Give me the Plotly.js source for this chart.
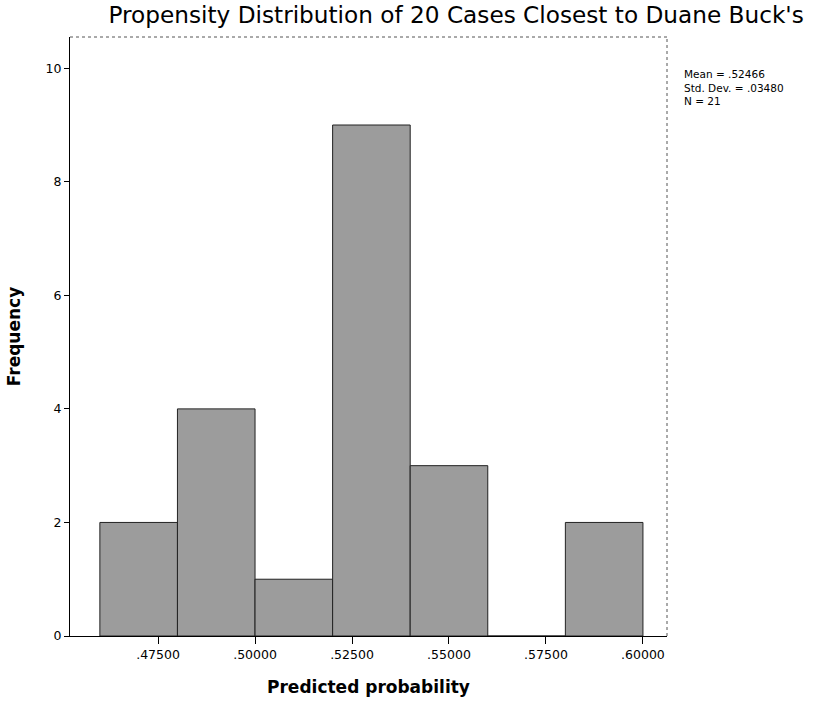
<!DOCTYPE html>
<html><head><meta charset="utf-8">
<script src="https://cdn.plot.ly/plotly-3.0.1.min.js"></script>
<style>body{margin:0;background:#fff}</style>
</head><body><div id="chart" style="width:816px;height:703px"></div>
<script>
const binStarts = [0.46, 0.48, 0.50, 0.52, 0.54, 0.56, 0.58];
const binWidth = 0.02;
const counts = [2, 4, 1, 9, 3, 0, 2];
const xTickVals = [0.475, 0.500, 0.525, 0.550, 0.575, 0.600];
const xTickText = ['.47500', '.50000', '.52500', '.55000', '.57500', '.60000'];
const yTickVals = [0, 2, 4, 6, 8, 10];
const statsText = ['Mean = .52466', 'Std. Dev. = .03480', 'N = 21'];
const titleText = "Propensity Distribution of 20 Cases Closest to Duane Buck's";

const centers = binStarts.map(s => s + binWidth / 2);
const trace = {
  type: 'bar', x: centers, y: counts, width: binWidth,
  marker: {color: '#9c9c9c', line: {color: '#222', width: 1}},
  hoverinfo: 'skip'
};
const font = 'DejaVu Sans, Verdana, sans-serif';
const layout = {
  width: 816, height: 703,
  margin: {l: 70, r: 149, t: 37, b: 67},
  paper_bgcolor: '#fff', plot_bgcolor: '#fff',
  showlegend: false,
  title: {text: titleText, font: {family: font, size: 23.2, color: '#000'}, x: 0.559, xanchor: 'center', y: 0.979, yanchor: 'middle'},
  xaxis: {
    range: [0.4523, 0.6062], tickvals: xTickVals, ticktext: xTickText,
    ticks: 'outside', ticklen: 7, tickcolor: '#000', showgrid: false, zeroline: false,
    showline: true, linecolor: '#000', linewidth: 1,
    tickfont: {family: font, size: 12.5, color: '#000'},
    title: {text: 'Predicted probability', font: {family: font, size: 17, color: '#000', weight: 'bold'}, standoff: 20}
  },
  yaxis: {
    range: [0, 10.55], tickvals: yTickVals, ticks: 'outside', ticklen: 5, tickcolor: '#000',
    showgrid: false, zeroline: false, showline: true, linecolor: '#000', linewidth: 1,
    tickfont: {family: font, size: 12.5, color: '#000'},
    title: {text: 'Frequency', font: {family: font, size: 17, color: '#000', weight: 'bold'}, standoff: 20}
  },
  shapes: [
    {type: 'line', xref: 'paper', yref: 'paper', x0: 0, x1: 1, y0: 1, y1: 1, line: {color: '#555', width: 1, dash: 'dot'}},
    {type: 'line', xref: 'paper', yref: 'paper', x0: 1, x1: 1, y0: 0, y1: 1, line: {color: '#555', width: 1, dash: 'dot'}}
  ],
  annotations: [{
    xref: 'paper', yref: 'paper', x: 1.025, y: 0.9165, xanchor: 'left', yanchor: 'middle', align: 'left',
    showarrow: false, text: statsText.join('<br>'),
    font: {family: font, size: 10.5, color: '#000'}
  }]
};
Plotly.newPlot('chart', [trace], layout, {displayModeBar: false, staticPlot: true});
</script></body></html>
